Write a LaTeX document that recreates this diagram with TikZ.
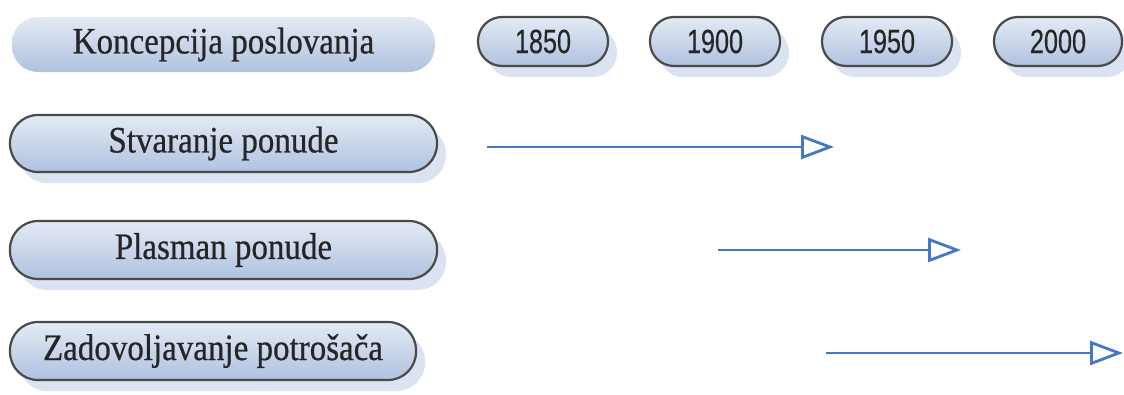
\documentclass[tikz,border=0pt]{standalone}
\usepackage{fontspec}
\setmainfont{Liberation Serif}[FakeBold=0.6]
\newfontfamily\yearfont{Liberation Sans}[FakeBold=0.4]
\usetikzlibrary{arrows.meta,shadows}
\definecolor{boxtop}{HTML}{E4EAF4}
\definecolor{boxbot}{HTML}{AFC2DF}
\definecolor{boxedge}{HTML}{4A4A4A}
\definecolor{shadowblue}{HTML}{D3DDEF}
\definecolor{arrowblue}{HTML}{4676C6}
\definecolor{txt}{HTML}{262626}
\newcommand{\tallL}[1]{\scalebox{1}[1.13]{#1}}
\newcommand{\tallY}[1]{\scalebox{0.84}[1.12]{#1}}
\tikzset{
  pill/.style={rounded corners=#1, top color=boxtop, bottom color=boxbot, draw=boxedge, line width=2.2pt,
    text=txt, inner sep=0pt, drop shadow={shadow xshift=9pt, shadow yshift=-11pt, fill=shadowblue, opacity=0.8}},
  pill/.default=26pt,
  headpill/.style={rounded corners=26pt, top color=boxtop, bottom color=boxbot, draw=none,
    text=txt, inner sep=0pt},
  labeltext/.style={font=\fontsize{33}{36}\selectfont},
  yeartext/.style={font=\yearfont\fontsize{30}{32}\selectfont},
  timearrow/.style={draw=arrowblue, line width=2.8pt, -{Triangle[open, length=33pt, width=24pt, line width=2.8pt]}}
}
\begin{document}
\begin{tikzpicture}[x=1pt,y=-1pt]
\useasboundingbox[fill=white] (0,0) rectangle (1124,394);
\node[headpill, labeltext, minimum width=423pt, minimum height=55pt] (konc) at (223.5,44.5) {\tallL{Koncepcija poslovanja}};
\node[pill=24pt, yeartext, minimum width=130pt, minimum height=49pt] (y1850) at (543,41.5) {\tallY{1850}};
\node[pill=24pt, yeartext, minimum width=130pt, minimum height=49pt] (y1900) at (715,41.5) {\tallY{1900}};
\node[pill=24pt, yeartext, minimum width=130pt, minimum height=49pt] (y1950) at (887,41.5) {\tallY{1950}};
\node[pill=24pt, yeartext, minimum width=128pt, minimum height=49pt] (y2000) at (1058,41.5) {\tallY{2000}};
\node[pill=28pt, labeltext, minimum width=427pt, minimum height=57pt] (stv) at (223.5,143.5) {\tallL{Stvaranje ponude}};
\node[pill=28pt, labeltext, minimum width=427pt, minimum height=58pt] (pla) at (223.5,250) {\tallL{Plasman ponude}};
\node[pill=28pt, labeltext, minimum width=406pt, minimum height=58pt] (zad) at (213,351) {\tallL{Zadovoljavanje potrošača}};
\coordinate (a1s) at (487,147);
\coordinate (a1e) at (834,147);
\coordinate (a2s) at (718,250);
\coordinate (a2e) at (961,250);
\coordinate (a3s) at (826,353);
\coordinate (a3e) at (1123,353);
\draw[timearrow] (a1s) -- (a1e);
\draw[timearrow] (a2s) -- (a2e);
\draw[timearrow] (a3s) -- (a3e);
\end{tikzpicture}
\end{document}
